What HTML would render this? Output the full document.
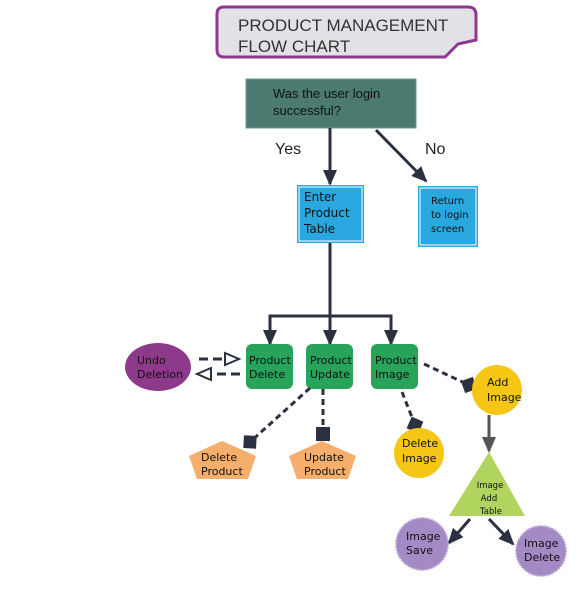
<!DOCTYPE html>
<html><head><style>
body{margin:0;background:#fff;}
svg{display:block;font-family:"Liberation Sans",sans-serif;}
.l{font-family:"DejaVu Sans","Liberation Sans",sans-serif;}
</style></head><body>
<svg width="587" height="593" viewBox="0 0 587 593" xmlns="http://www.w3.org/2000/svg">
<defs>
<marker id="ah" markerWidth="17" markerHeight="17" refX="14" refY="8" orient="auto" markerUnits="userSpaceOnUse"><path d="M0,1 L16,8 L0,15 Z" fill="#2c3142"/></marker>
<marker id="ahg" markerWidth="17" markerHeight="17" refX="14" refY="8" orient="auto" markerUnits="userSpaceOnUse"><path d="M0,1 L16,8 L0,15 Z" fill="#555"/></marker>
<marker id="oa" markerWidth="17" markerHeight="17" refX="14" refY="8" orient="auto" markerUnits="userSpaceOnUse"><path d="M1,2 L15,8 L1,14 Z" fill="#fff" stroke="#2c3142" stroke-width="2"/></marker>
<marker id="dm" markerWidth="20" markerHeight="20" refX="10" refY="10" orient="auto" markerUnits="userSpaceOnUse"><path d="M1,10 L10,1 L19,10 L10,19 Z" fill="#2c3142"/></marker>
</defs>
<path d="M224,7 L468,7 Q476,7 476,15 L476,40 L458,44 L445,57 L224,57 Q217,57 217,50 L217,14 Q217,7 224,7 Z" fill="#e2e2e6" stroke="#8e3a8e" stroke-width="3"/>
<text x="238" y="31" font-size="17" fill="#333">PRODUCT MANAGEMENT</text>
<text x="238" y="52" font-size="17" fill="#333">FLOW CHART</text>
<rect x="246" y="79" width="170" height="49" fill="#4a7a70" stroke="#6a9a90"/>
<text x="273" y="98" font-size="13" fill="#111">Was the user login</text>
<text x="273" y="115" font-size="13" fill="#111">successful?</text>
<text x="275" y="154" font-size="16" fill="#222">Yes</text>
<text x="425" y="154" font-size="16" fill="#222">No</text>
<line x1="330" y1="128" x2="330" y2="184" stroke="#2c3142" stroke-width="3" marker-end="url(#ah)"/>
<line x1="376" y1="130" x2="426" y2="181" stroke="#2c3142" stroke-width="3" marker-end="url(#ah)"/>
<rect x="297" y="185" width="67" height="58" fill="#29a8e0"/>
<rect x="299" y="187" width="63" height="54" fill="none" stroke="#fff" stroke-width="1"/>
<text x="304" y="201" font-size="12" fill="#111" class="l">Enter</text>
<text x="304" y="217" font-size="12" fill="#111" class="l">Product</text>
<text x="304" y="233" font-size="12" fill="#111" class="l">Table</text>
<rect x="418" y="186" width="60" height="61" fill="#29a8e0"/>
<rect x="420" y="188" width="56" height="57" fill="none" stroke="#fff" stroke-width="1"/>
<text x="431" y="204" font-size="10" fill="#111" class="l">Return</text>
<text x="431" y="218" font-size="10" fill="#111" class="l">to login</text>
<text x="431" y="232" font-size="10" fill="#111" class="l">screen</text>
<polyline points="330,243 330,316" fill="none" stroke="#2c3142" stroke-width="3"/>
<polyline points="270,330 270,316 391,316 391,330" fill="none" stroke="#2c3142" stroke-width="3"/>
<line x1="270" y1="318" x2="270" y2="344" stroke="#2c3142" stroke-width="3" marker-end="url(#ah)"/>
<line x1="330" y1="316" x2="330" y2="344" stroke="#2c3142" stroke-width="3" marker-end="url(#ah)"/>
<line x1="391" y1="318" x2="391" y2="344" stroke="#2c3142" stroke-width="3" marker-end="url(#ah)"/>
<g font-size="11" fill="#111" class="l">
<rect x="246" y="344" width="47" height="45" rx="6" fill="#27a35a"/>
<text x="249" y="364">Product</text><text x="249" y="378">Delete</text>
<rect x="306" y="344" width="47" height="45" rx="6" fill="#27a35a"/>
<text x="310" y="364">Product</text><text x="310" y="378">Update</text>
<rect x="371" y="344" width="47" height="45" rx="6" fill="#27a35a"/>
<text x="375" y="364">Product</text><text x="375" y="378">Image</text>
<ellipse cx="158" cy="367" rx="33" ry="24" fill="#8e3a8a"/>
<text x="137" y="364">Undo</text><text x="137" y="378">Deletion</text>
</g>
<line x1="199" y1="359" x2="238" y2="359" stroke="#2c3142" stroke-width="3" stroke-dasharray="9,5" marker-end="url(#oa)"/>
<line x1="240" y1="374" x2="198" y2="374" stroke="#2c3142" stroke-width="3" stroke-dasharray="9,5" marker-end="url(#oa)"/>
<line x1="310" y1="388" x2="250" y2="442" stroke="#2c3142" stroke-width="3" stroke-dasharray="6,4" marker-end="url(#dm)"/>
<line x1="323" y1="389" x2="323" y2="430" stroke="#2c3142" stroke-width="3" stroke-dasharray="6,4"/>
<rect x="316" y="427" width="14" height="14" fill="#2c3142"/>
<polygon points="222,441 256,456 248,479 197,479 189,456" fill="#f6ae6c"/>
<polygon points="322,441 356,456 348,479 297,479 289,456" fill="#f6ae6c"/>
<g font-size="11" fill="#111" class="l">
<text x="201" y="461">Delete</text><text x="201" y="475">Product</text>
<text x="304" y="461">Update</text><text x="304" y="475">Product</text>
</g>
<line x1="402" y1="392" x2="415" y2="425" stroke="#2c3142" stroke-width="3" stroke-dasharray="6,4" marker-end="url(#dm)"/>
<line x1="424" y1="364" x2="469" y2="385" stroke="#2c3142" stroke-width="3" stroke-dasharray="6,4" marker-end="url(#dm)"/>
<circle cx="419" cy="453" r="25" fill="#f6c614"/>
<circle cx="497" cy="390" r="25" fill="#f6c614"/>
<line x1="489" y1="415" x2="489" y2="451" stroke="#555" stroke-width="3" marker-end="url(#ahg)"/>
<polygon points="489,452 525,516 449,516" fill="#b0d45e"/>
<g font-size="11" fill="#111" class="l">
<text x="402" y="447">Delete</text><text x="402" y="462">Image</text>
<text x="487" y="386">Add</text><text x="487" y="401">Image</text>
</g>
<g font-size="8.5" fill="#111" class="l" text-anchor="middle">
<text x="490" y="488">Image</text><text x="489" y="501">Add</text><text x="491" y="514">Table</text>
</g>
<line x1="470" y1="519" x2="449" y2="543" stroke="#2c3142" stroke-width="3" marker-end="url(#ah)"/>
<line x1="489" y1="519" x2="513" y2="544" stroke="#2c3142" stroke-width="3" marker-end="url(#ah)"/>
<circle cx="422" cy="544" r="26" fill="#a48ac4" stroke="#b9a3d6" stroke-width="2" stroke-dasharray="1.5,1.5"/>
<circle cx="541" cy="551" r="25" fill="#a48ac4" stroke="#b9a3d6" stroke-width="2" stroke-dasharray="1.5,1.5"/>
<g font-size="11" fill="#111" class="l">
<text x="406" y="540">Image</text><text x="406" y="554">Save</text>
<text x="524" y="547">Image</text><text x="524" y="561">Delete</text>
</g>
</svg>
</body></html>
